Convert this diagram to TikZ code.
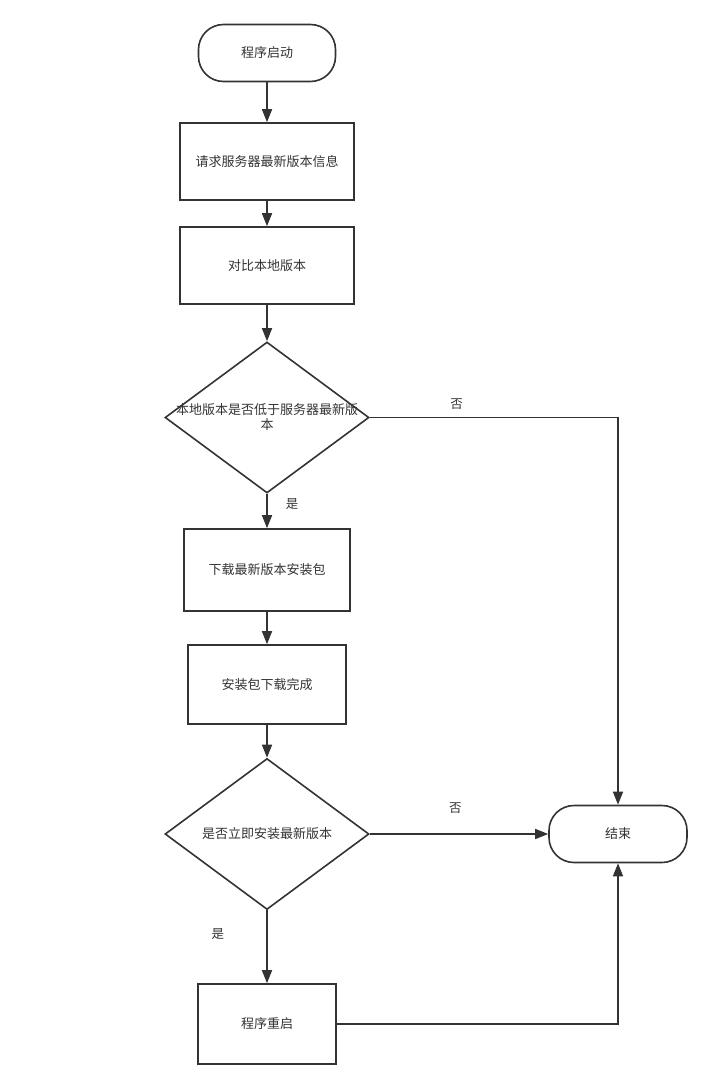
\documentclass[tikz,border=0pt]{standalone}
\usepackage{fontspec}
\setmainfont{Noto Sans CJK SC}
\usetikzlibrary{arrows.meta,shapes.geometric}
\definecolor{flowGray}{RGB}{51,51,51}

\begin{document}
\begin{tikzpicture}[
  x=1pt, y=-1pt,
  font=\fontsize{13}{15.5}\selectfont, text=flowGray,
  term/.style = {rectangle, draw=flowGray, rounded corners=25pt, line width=1.6pt,
                 minimum width=137pt, minimum height=57pt, align=center},
  proc/.style = {rectangle, draw=flowGray, line width=1.6pt,
                 minimum height=77pt, align=center},
  dec/.style  = {diamond, draw=flowGray, line width=1.6pt, inner sep=0pt,
                 minimum width=204pt, minimum height=151pt},
  flow/.style = {-{Triangle[length=13pt,width=10pt]}, line width=1.6pt, draw=flowGray},
  lbl/.style  = {font=\fontsize{12.5}{14}\selectfont, inner sep=1pt}
]
\useasboundingbox (0,0) rectangle (711,1090);

% Main column
\node[term] (start) at (267,53) {程序启动};
\node[proc, minimum width=174pt] (req) at (267,161.5) {请求服务器最新版本信息};
\node[proc, minimum width=174pt] (cmp) at (267,265.5) {对比本地版本};
\node[dec, label={[align=center, font=\fontsize{13}{15}\selectfont]center:本地版本是否低于服务器最新版\\本}]
      (chk) at (267,417.5) {};
\node[proc, minimum width=166pt, minimum height=82pt] (dl) at (267,570) {下载最新版本安装包};
\node[proc, minimum width=158pt, minimum height=79pt] (done) at (267,684.5) {安装包下载完成};
\node[dec] (inst) at (267,834) {\makebox[0pt]{是否立即安装最新版本}};
\node[proc, minimum width=138pt, minimum height=80pt] (rst) at (267,1024) {程序重启};

% Right column
\node[term, minimum width=138pt] (end) at (618,834) {结束};

% Main flow
\draw[flow] (start) -- (req);
\draw[flow] (req) -- (cmp);
\draw[flow] (cmp) -- (chk);
\draw[flow] (chk) -- node[lbl, pos=0.3, right=17pt] {是} (dl);
\draw[flow] (dl) -- (done);
\draw[flow] (done) -- (inst);
\draw[flow] (inst) -- node[lbl, pos=0.32, left=41pt] {是} (rst);

% Branches to the end
\draw[flow] (chk.east) -| node[lbl, pos=0.175, above=6pt] {否} (end.north);
\draw[flow] (inst.east) -- node[lbl, pos=0.48, above=19pt] {否} (end.west);
\draw[flow] (rst.east) -| (end.south);

\end{tikzpicture}
\end{document}
